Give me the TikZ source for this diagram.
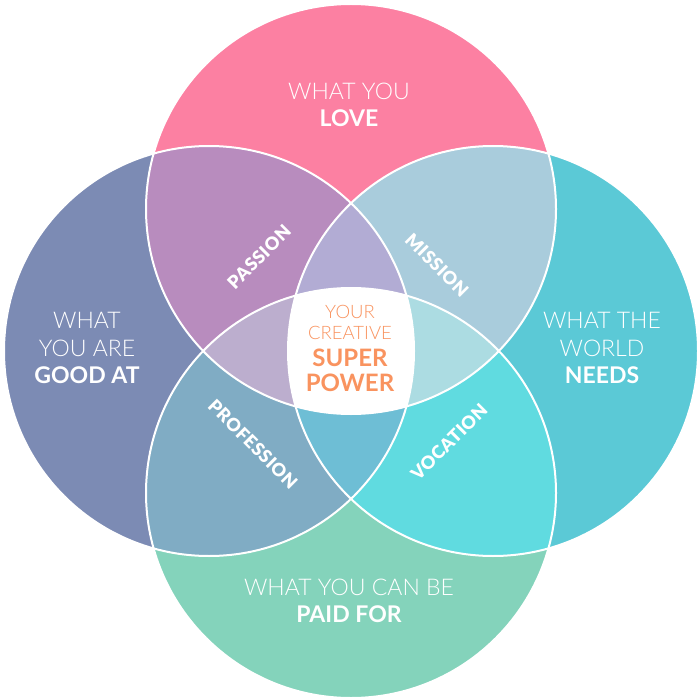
\documentclass[tikz,border=0pt]{standalone}
\usepackage{fontspec}
\setmainfont{Lato}
\newfontfamily\lightfont{Lato Light}
\newfontfamily\blackfont[LetterSpace=3]{Lato Black}
\definecolor{cTop}{HTML}{FC80A2}
\definecolor{cLeft}{HTML}{7C8BB4}
\definecolor{cRight}{HTML}{5BC9D6}
\definecolor{cBottom}{HTML}{84D3BB}
\definecolor{cTL}{HTML}{B88CBE}
\definecolor{cTR}{HTML}{A9CCDC}
\definecolor{cLB}{HTML}{80ACC4}
\definecolor{cRB}{HTML}{60DBE0}
\definecolor{cTLR}{HTML}{B2ACD4}
\definecolor{cTLB}{HTML}{BCAECE}
\definecolor{cTRB}{HTML}{ACDCE2}
\definecolor{cLRB}{HTML}{6EBED5}
\definecolor{cOrange}{HTML}{F9935F}
\tikzset{
  bigtxt/.style={text=white, align=center, font=\fontsize{23}{27.5}\selectfont, inner sep=0pt},
  diag/.style={text=white, font=\fontsize{18}{20}\selectfont\blackfont, inner sep=0pt},
  ctr/.style={text=cOrange, align=center, inner sep=0pt},
  ring/.style={draw=white, line width=2pt}
}
\begin{document}
\begin{tikzpicture}[x=1pt,y=-1pt]
\useasboundingbox (0,0) rectangle (700,700);
\fill[white] (0,0) rectangle (700,700);
\def\R{205pt}
\coordinate (T) at (351,209);
\coordinate (L) at (209,351);
\coordinate (Rc) at (493,351);
\coordinate (B) at (351,493);
% base circles
\fill[cTop] (T) circle[radius=\R];
\fill[cLeft] (L) circle[radius=\R];
\fill[cRight] (Rc) circle[radius=\R];
\fill[cBottom] (B) circle[radius=\R];
% pairs
\begin{scope}\clip (T) circle[radius=\R]; \fill[cTL] (L) circle[radius=\R];\end{scope}
\begin{scope}\clip (T) circle[radius=\R]; \fill[cTR] (Rc) circle[radius=\R];\end{scope}
\begin{scope}\clip (L) circle[radius=\R]; \fill[cLB] (B) circle[radius=\R];\end{scope}
\begin{scope}\clip (Rc) circle[radius=\R]; \fill[cRB] (B) circle[radius=\R];\end{scope}
% triples
\begin{scope}\clip (T) circle[radius=\R]; \clip (L) circle[radius=\R]; \fill[cTLR] (Rc) circle[radius=\R];\end{scope}
\begin{scope}\clip (T) circle[radius=\R]; \clip (L) circle[radius=\R]; \fill[cTLB] (B) circle[radius=\R];\end{scope}
\begin{scope}\clip (T) circle[radius=\R]; \clip (Rc) circle[radius=\R]; \fill[cTRB] (B) circle[radius=\R];\end{scope}
\begin{scope}\clip (L) circle[radius=\R]; \clip (Rc) circle[radius=\R]; \fill[cLRB] (B) circle[radius=\R];\end{scope}
% quadruple
\begin{scope}\clip (T) circle[radius=\R]; \clip (L) circle[radius=\R]; \clip (Rc) circle[radius=\R]; \fill[white] (B) circle[radius=\R];\end{scope}
% outlines
\draw[ring] (T) circle[radius=\R];
\draw[ring] (L) circle[radius=\R];
\draw[ring] (Rc) circle[radius=\R];
\draw[ring] (B) circle[radius=\R];
% main labels
\node[bigtxt] (love) at (349,105) {{\lightfont WHAT YOU}\\\bfseries LOVE};
\node[bigtxt] (good) at (87,348) {{\lightfont WHAT}\\{\lightfont YOU ARE}\\\bfseries GOOD AT};
\node[bigtxt] (world) at (602,348) {{\lightfont WHAT THE}\\{\lightfont WORLD}\\\bfseries NEEDS};
\node[bigtxt] (paid) at (349,601) {{\lightfont WHAT YOU CAN BE}\\\bfseries PAID FOR};
% diagonal labels
\node[diag, rotate=45] (passion) at (259,257) {PASSION};
\node[diag, rotate=-45] (mission) at (437,265) {MISSION};
\node[diag, rotate=-45] (profession) at (253,444) {PROFESSION};
\node[diag, rotate=45] (vocation) at (449,442) {VOCATION};
% centre
\node[ctr, font=\fontsize{18.5}{21}\selectfont\lightfont] (your) at (350,322) {YOUR\\CREATIVE};
\node[ctr, font=\fontsize{24}{25}\selectfont\bfseries] (super) at (350,370) {SUPER\\POWER};
\end{tikzpicture}
\end{document}
